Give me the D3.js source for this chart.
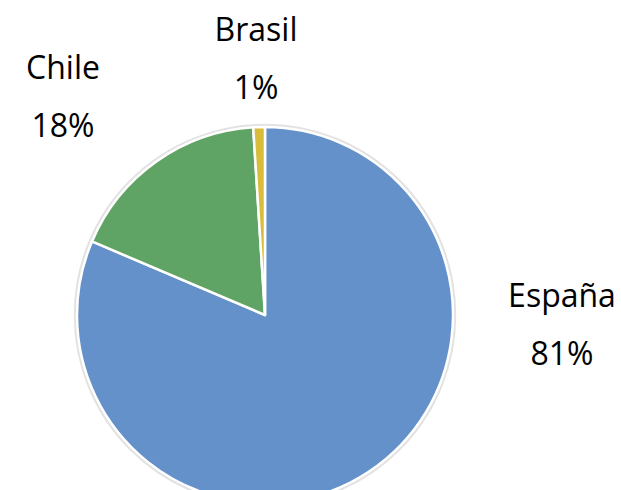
<!DOCTYPE html>
<html>
<head>
<meta charset="utf-8">
<script src="https://cdn.jsdelivr.net/npm/d3@7/dist/d3.min.js"></script>
<style>
  html, body { margin: 0; padding: 0; background: #fff; }
  svg { display: block; }
  text { font-family: "Open Sans", "Noto Sans", sans-serif; fill: #000; }
</style>
</head>
<body>
<svg id="chart" width="621" height="490"></svg>
<script>
const categories = ["España", "Chile", "Brasil"];
const values = [81.4, 17.6, 1.0];
const colors = ["#6591cb", "#5fa464", "#d9bc3a"];

// label placement (layout only)
const labelPos = {
  "España": [562, 307],
  "Chile": [63, 79],
  "Brasil": [256, 41]
};
const lineGap = 58;

const svg = d3.select("#chart");
const cx = 265, cy = 315, r = 188;

const total = d3.sum(values);
const data = categories.map((c, i) => ({ cat: c, value: values[i], color: colors[i] }));

const pie = d3.pie().sort(null).value(d => d.value).startAngle(0).endAngle(2 * Math.PI);
const arc = d3.arc().innerRadius(0).outerRadius(r);

const g = svg.append("g").attr("transform", `translate(${cx},${cy})`);

// soft outer ring
g.append("circle").attr("r", r + 1.5).attr("fill", "none")
  .attr("stroke", "#e2e2e2").attr("stroke-width", 3.5);

g.selectAll("path.slice").data(pie(data)).join("path")
  .attr("class", "slice")
  .attr("d", arc)
  .attr("fill", d => d.data.color)
  .attr("stroke", "#ffffff")
  .attr("stroke-width", 2.5)
  .attr("stroke-linejoin", "round");

const pct = d3.format(".0%");
const labels = svg.selectAll("g.lbl").data(data).join("g").attr("class", "lbl");
labels.append("text")
  .attr("x", d => labelPos[d.cat][0])
  .attr("y", d => labelPos[d.cat][1])
  .attr("text-anchor", "middle")
  .attr("font-size", 32)
  .text(d => d.cat);
labels.append("text")
  .attr("x", d => labelPos[d.cat][0])
  .attr("y", d => labelPos[d.cat][1] + lineGap)
  .attr("text-anchor", "middle")
  .attr("font-size", 32)
  .text(d => pct(d.value / total));
</script>
</body>
</html>
